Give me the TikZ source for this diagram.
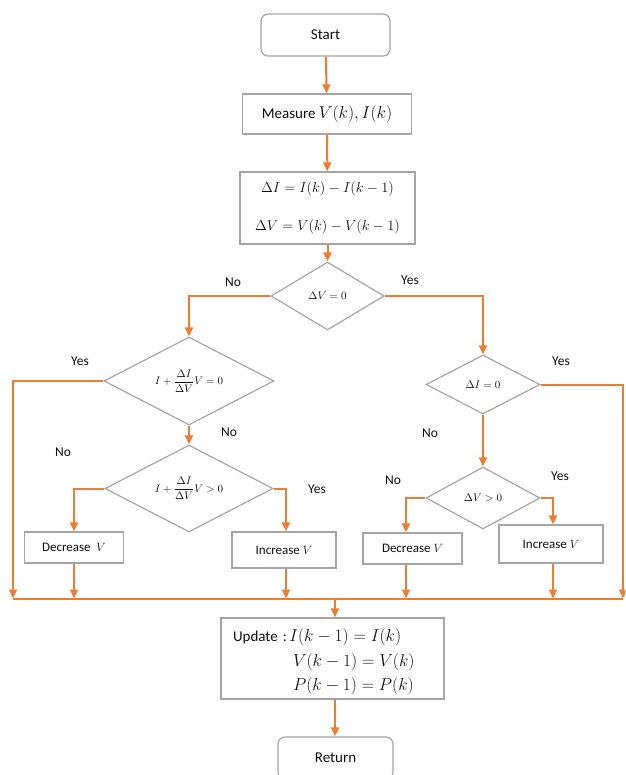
\documentclass[tikz,border=0pt]{standalone}
\usepackage{amsmath}
\usepackage{fontspec}
\setmainfont{Carlito}
\usetikzlibrary{arrows.meta,shapes.geometric}
\definecolor{flow}{RGB}{237,125,49}
\definecolor{frame}{RGB}{165,165,165}
\definecolor{ink}{RGB}{15,15,15}

\tikzset{
  proc/.style={draw=frame, line width=1.2pt, fill=white, inner sep=2pt, text=ink,
               font=\fontsize{15}{18}\selectfont},
  term/.style={proc, rounded corners=7pt},
  smallbox/.style={proc, font=\fontsize{13}{15}\selectfont},
  decision/.style={draw=frame, line width=1.2pt, fill=white, diamond, aspect=2,
                   inner sep=0pt, text=ink, font=\fontsize{11}{13}\selectfont},
  flowline/.style={draw=flow, line width=2pt},
  arr/.style={flowline, -{Triangle[width=8pt,length=9pt]}},
  lbl/.style={text=ink, inner sep=0pt, font=\fontsize{13.5}{16}\selectfont}
}

\begin{document}
\begin{tikzpicture}[x=1pt,y=-1pt]
  \clip (0,0) rectangle (625,775);
  \fill[white] (0,0) rectangle (625,775);

  % main column
  \node[term, minimum width=129pt, minimum height=42pt] (start) at (325.5,35) {Start};
  \node[proc, minimum width=169pt, minimum height=40pt] (measure) at (327,114)
    {Measure {\fontsize{16.5}{18}\selectfont$V(k),I(k)$}};
  \node[proc, minimum width=175pt, minimum height=72pt, align=center,
        font=\fontsize{15.5}{38}\selectfont] (delta) at (327.5,208)
    {$\Delta I = I(k) - I(k-1)$\\$\Delta V = V(k) - V(k-1)$};
  \node[decision, minimum width=113pt, minimum height=68pt] (d1) at (327.5,296) {$\Delta V = 0$};

  % left branch: dV != 0
  \node[decision, minimum width=170pt, minimum height=88pt] (d2) at (189,381)
    {$I+\dfrac{\Delta I}{\Delta V}V = 0$};
  \node[decision, minimum width=168pt, minimum height=87pt] (d4) at (189,488.5)
    {$I+\dfrac{\Delta I}{\Delta V}V > 0$};
  \node[smallbox, minimum width=99pt, minimum height=31pt] (dec1) at (74,547.5) {Decrease \ $V$};
  \node[smallbox, minimum width=104pt, minimum height=36pt] (inc1) at (284,550) {Increase $V$};

  % right branch: dV = 0
  \node[decision, minimum width=114pt, minimum height=59pt] (d3) at (483,384.5) {$\Delta I = 0$};
  \node[decision, minimum width=114pt, minimum height=62pt] (d5) at (483,498) {$\Delta V > 0$};
  \node[smallbox, minimum width=99pt, minimum height=31pt] (dec2) at (412.5,548.5) {Decrease $V$};
  \node[smallbox, minimum width=104pt, minimum height=38pt] (inc2) at (551,544) {Increase $V$};

  % update and return
  \node[proc, minimum width=223pt, minimum height=81pt, text width=199pt, inner xsep=12pt,
        align=left, font=\fontsize{15}{24.5}\selectfont] (update) at (332.5,658.5)
    {\rule{0pt}{20pt}Update :\,{\fontsize{16}{24.5}\selectfont$I(k-1) = I(k)$}\\
     \hspace*{60pt}{\fontsize{16}{24.5}\selectfont$V(k-1) = V(k)$}\\
     \hspace*{60pt}{\fontsize{16}{24.5}\selectfont$P(k-1) = P(k)$}};
  \node[term, minimum width=115pt, minimum height=42pt] (ret) at (335.5,758) {Return};

  % collecting bus and column positions
  \coordinate (busL) at (13,598.5);
  \coordinate (busR) at (623,598.5);
  \coordinate (inc1c) at ([xshift=2pt]inc1.north);
  \coordinate (dec2c) at ([xshift=-6.5pt]dec2.north);
  \coordinate (inc2c) at ([xshift=2pt]inc2.north);
  \coordinate (updc) at ([xshift=2.5pt]update.north);

  % connectors
  \draw[arr] (start) -- (measure);
  \draw[arr] (measure) -- (delta);
  \draw[arr] (delta) -- (d1);
  \draw[arr] (d1.west) -| (d2.north);
  \draw[arr] (d1.east) -| (d3.north);
  \draw[arr] (d2.south) -- (d4.north);
  \draw[arr] (d3.south) -- (d5.north);
  \draw[arr] (d4.west) -| (dec1.north);
  \draw[arr] (d4.east) -| (inc1c);
  \draw[arr] (d5.west) -| (dec2c);
  \draw[arr] (d5.east) -| (inc2c);

  \draw[flowline] (busL) -- (busR);
  \draw[arr] (d2.west) -| (busL);
  \draw[arr] (d3.east) -| (busR);
  \draw[arr] (dec1.south) -- (dec1.south |- busL);
  \draw[arr] (inc1c |- inc1.south) -- (inc1c |- busL);
  \draw[arr] (dec2c |- dec2.south) -- (dec2c |- busL);
  \draw[arr] (inc2c |- inc2.south) -- (inc2c |- busL);
  \draw[arr] (updc |- busL) -- (updc);
  \draw[arr] (updc |- update.south) -- (updc |- ret.north);

  % branch labels
  \node[lbl] (l1no)  at (233,282) {No};
  \node[lbl] (l1yes) at (410,280) {Yes};
  \node[lbl] (l2yes) at (80,361)  {Yes};
  \node[lbl] (l3yes) at (561,361) {Yes};
  \node[lbl] (l2no)  at (229,432) {No};
  \node[lbl] (l3no)  at (430,433) {No};
  \node[lbl] (l4no)  at (63,452)  {No};
  \node[lbl] (l4yes) at (317,489) {Yes};
  \node[lbl] (l5no)  at (393,480) {No};
  \node[lbl] (l5yes) at (560,476) {Yes};
\end{tikzpicture}
\end{document}
